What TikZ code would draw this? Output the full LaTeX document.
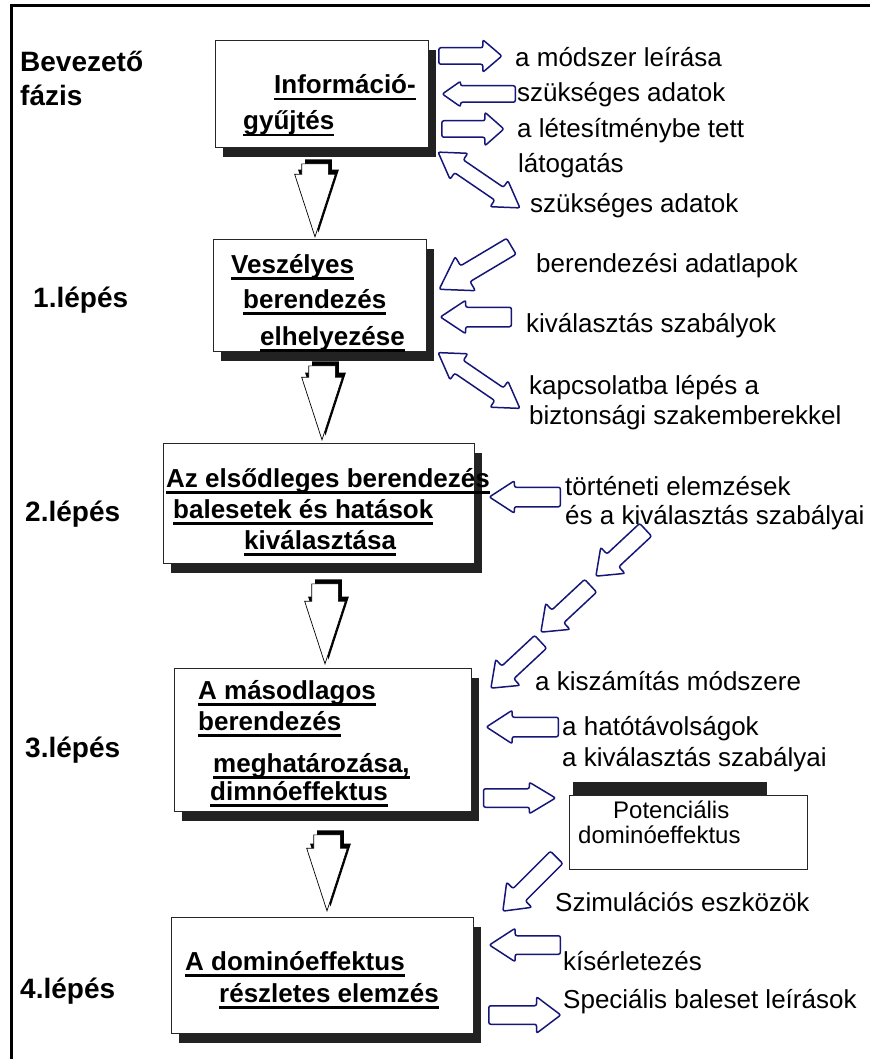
\documentclass[tikz,border=0pt]{standalone}
\usepackage{fontspec}
\setmainfont{Liberation Sans}
\usetikzlibrary{shapes.arrows,shadows}

\definecolor{arrownavy}{RGB}{22,22,120}
\definecolor{boxshadow}{RGB}{34,34,34}

\newcommand\bxul[1]{\setbox0\hbox{#1}\rlap{\rule[-6.5pt]{\wd0}{2.8pt}}\box0}

\begin{document}
\begin{tikzpicture}[x=1pt,y=-1pt,
	stepbox/.style={draw=black!85,line width=0.8pt,fill=white,inner sep=0pt,
		general shadow={fill=boxshadow,shadow xshift=8pt,shadow yshift=-10pt}},
	boxtext/.style={anchor=base west,inner sep=0pt,font=\fontsize{26}{30}\selectfont\bfseries},
	phase/.style={anchor=base west,inner sep=0pt,font=\fontsize{28}{34}\selectfont\bfseries},
	note/.style={anchor=base west,inner sep=0pt,font=\fontsize{26}{30}\selectfont},
	flow/.style={single arrow,draw=black,line width=0.7pt,fill=white,inner xsep=0pt,inner ysep=13pt,
		single arrow head extend=7,single arrow tip angle=36,rotate=-90,anchor=tip,
		general shadow={fill=black,shadow xshift=3.5pt,shadow yshift=4.5pt}},
	blk/.style={single arrow,draw=arrownavy,line width=1.5pt,fill=white,inner xsep=0pt,inner ysep=8pt,
		rounded corners=2pt,anchor=tip},
	dblk/.style={double arrow,draw=arrownavy,line width=1.5pt,fill=white,inner xsep=0pt,inner ysep=7pt,
		rounded corners=2pt,minimum height=99,double arrow head extend=8,
		double arrow tip angle=64,rotate=-34.3}]
				\useasboundingbox (0,0) rectangle (870,1059);
				\draw [line width=3pt] (870,5.5) -- (11.5,5.5) -- (11.5,1059);
				% phases
				\node[phase] (intro) at (20,72) {Bevezető};
				\node[phase] (intro2) at (20,106) {fázis};
				\node[phase] (step1) at (33,307) {1.lépés};
				\node[phase] (step2) at (25,521) {2.lépés};
				\node[phase] (step3) at (25,757) {3.lépés};
				\node[phase] (step4) at (20,998) {4.lépés};
				% boxes
				\node[stepbox,minimum width=213,minimum height=107] (info) at (321.5,93.5) {};
				\node[stepbox,minimum width=213,minimum height=112] (hazard) at (319.5,295) {};
				\node[stepbox,minimum width=311,minimum height=120] (primary) at (318.5,503) {};
				\node[stepbox,minimum width=297,minimum height=143] (secondary) at (322.5,739.5) {};
				\node[stepbox,minimum width=302,minimum height=116] (detail) at (322,975) {};
				\fill [boxshadow] (573,782) rectangle (767,795);
				\node[draw=black!85,line width=0.8pt,fill=white,inner sep=0pt,minimum width=238,minimum height=74] (potential) at (688,832) {};
				% box texts
				\node[boxtext] (info1) at (274,94) {\bxul{Információ-}};
				\node[boxtext] (info2) at (243,130) {\bxul{gyűjtés}};
				\node[boxtext] (hazard1) at (231,273) {\bxul{Veszélyes}};
				\node[boxtext] (hazard2) at (243,308) {\bxul{berendezés}};
				\node[boxtext] (hazard3) at (260,345) {\bxul{elhelyezése}};
				\node[boxtext] (primary1) at (166,487) {\bxul{Az elsődleges berendezés}};
				\node[boxtext] (primary2) at (173,518) {\bxul{balesetek és hatások}};
				\node[boxtext] (primary3) at (244,549) {\bxul{kiválasztása}};
				\node[boxtext] (secondary1) at (198,699) {\bxul{A másodlagos}};
				\node[boxtext] (secondary2) at (198,730) {\bxul{berendezés}};
				\node[boxtext] (secondary3) at (213,772) {\bxul{meghatározása,}};
				\node[boxtext] (secondary4) at (210,800) {\bxul{dimnóeffektus}};
				\node[boxtext] (detail1) at (185,970) {\bxul{A dominóeffektus}};
				\node[boxtext] (detail2) at (219,1002) {\bxul{részletes elemzés}};
				\node[anchor=base west,inner sep=0pt,font=\fontsize{24}{28}\selectfont] (potential1) at (613,818) {Potenciális};
				\node[anchor=base west,inner sep=0pt,font=\fontsize{24}{28}\selectfont] (potential2) at (578,843) {dominóeffektus};
				% flow between steps
				\node[flow,minimum height=73] (down1) at (315,238) {};
				\node[flow,minimum height=74] (down2) at (322,441) {};
				\node[flow,minimum height=80] (down3) at (325,665) {};
				\node[flow,minimum height=76] (down4) at (327,912) {};
				% inputs and outputs
				\node[blk,minimum height=63,inner ysep=7.5pt,single arrow head extend=8,single arrow tip angle=81] (out1) at (503,56) {};
				\node[blk,minimum height=73,inner ysep=7.5pt,single arrow head extend=4.5,single arrow tip angle=70,rotate=180] (in1) at (441,94) {};
				\node[blk,minimum height=62,inner ysep=7.5pt,single arrow head extend=8.5,single arrow tip angle=83] (out2) at (505,129) {};
				\node[dblk] (both1) at (479,180) {};
				\node[blk,minimum height=84,inner ysep=8.5pt,single arrow head extend=10.5,single arrow tip angle=66,rotate=210.8] (in2) at (438,290) {};
				\node[blk,minimum height=71,inner ysep=9pt,single arrow head extend=7,single arrow tip angle=67,rotate=180] (in3) at (439,317) {};
				\node[dblk] (both2) at (479,380.5) {};
				\node[blk,minimum height=71,inner ysep=9pt,single arrow head extend=6.5,single arrow tip angle=66,rotate=180] (in4) at (488,497) {};
				\node[blk,minimum height=68,inner ysep=8pt,single arrow head extend=9,single arrow tip angle=75,rotate=223] (chain1) at (595,577) {};
				\node[blk,minimum height=68,inner ysep=8pt,single arrow head extend=9,single arrow tip angle=75,rotate=223] (chain2) at (540,633) {};
				\node[blk,minimum height=68,inner ysep=8pt,single arrow head extend=9,single arrow tip angle=75,rotate=223] (chain3) at (490,689) {};
				\node[blk,minimum height=72,inner ysep=9pt,single arrow head extend=7,single arrow tip angle=66,rotate=180] (in5) at (485,727) {};
				\node[blk,minimum height=72,inner ysep=8.5pt,single arrow head extend=6.5,single arrow tip angle=62] (out3) at (557,798) {};
				\node[blk,minimum height=76,inner ysep=8pt,single arrow head extend=9,single arrow tip angle=75,rotate=225] (chain4) at (502,912) {};
				\node[blk,minimum height=71,inner ysep=8.5pt,single arrow head extend=7.5,single arrow tip angle=66,rotate=180] (in6) at (488,945) {};
				\node[blk,minimum height=72,inner ysep=8.5pt,single arrow head extend=9,single arrow tip angle=74] (out4) at (562,1015) {};
				% notes
				\node[note] (note1) at (515,67) {a módszer leírása};
				\node[note] (note2) at (517,102) {szükséges adatok};
				\node[note] (note3) at (517,138) {a létesítménybe tett};
				\node[note] (note4) at (518,173) {látogatás};
				\node[note] (note5) at (530,213) {szükséges adatok};
				\node[note] (note6) at (536,272) {berendezési adatlapok};
				\node[note] (note7) at (526,332) {kiválasztás szabályok};
				\node[note] (note8) at (529,394) {kapcsolatba lépés a};
				\node[note] (note9) at (529,424) {biztonsági szakemberekkel};
				\node[note] (note10) at (565,495) {történeti elemzések};
				\node[note] (note11) at (565,524) {és a kiválasztás szabályai};
				\node[note] (note12) at (535,690) {a kiszámítás módszere};
				\node[note] (note13) at (562,735) {a hatótávolságok};
				\node[note] (note14) at (562,766) {a kiválasztás szabályai};
				\node[note] (note15) at (555,911) {Szimulációs eszközök};
				\node[note] (note16) at (563,970) {kísérletezés};
				\node[note] (note17) at (563,1008) {Speciális baleset leírások};
\end{tikzpicture}
\end{document}
